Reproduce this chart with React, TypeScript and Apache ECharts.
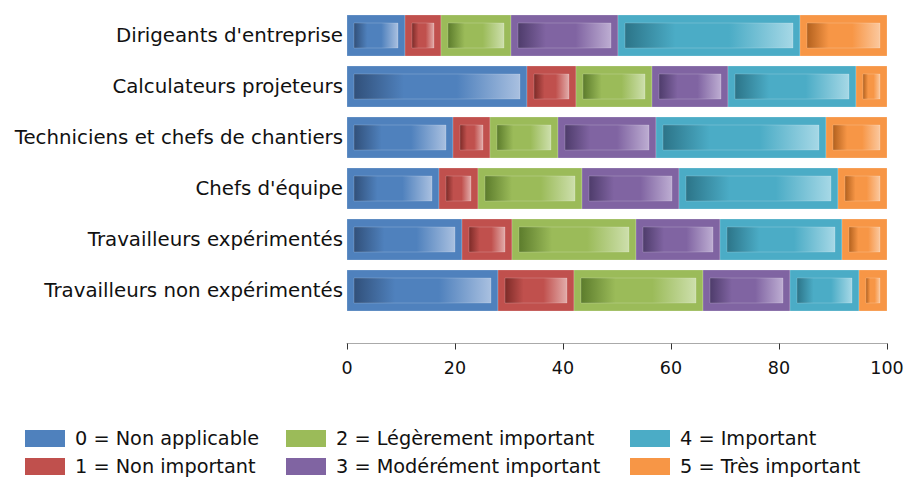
import React, { useEffect, useRef } from "react";
import * as echarts from "echarts";

const categories = [
  "Dirigeants d'entreprise",
  "Calculateurs projeteurs",
  "Techniciens et chefs de chantiers",
  "Chefs d'équipe",
  "Travailleurs expérimentés",
  "Travailleurs non expérimentés",
];
const seriesNames = [
  "0 = Non applicable",
  "1 = Non important",
  "2 = Légèrement important",
  "3 = Modérément important",
  "4 = Important",
  "5 = Très important",
];
const nonApplicable = [10.8, 33.4, 19.7, 17.1, 21.3, 27.9];
const nonImportant = [6.6, 9.0, 6.7, 7.1, 9.2, 14.1];
const legerement = [13.0, 14.0, 12.6, 19.3, 23.0, 24.0];
const moderement = [19.7, 14.1, 18.2, 18.0, 15.5, 16.0];
const important = [33.7, 23.8, 31.5, 29.4, 22.7, 12.9];
const tresImportant = [16.2, 5.7, 11.3, 9.1, 8.3, 5.1];
const xTicks = [0, 20, 40, 60, 80, 100];

const seriesValues = [nonApplicable, nonImportant, legerement, moderement, important, tresImportant];
const baseColors = ["#4F81BD", "#C0504D", "#9BBB59", "#8064A2", "#4BACC6", "#F79646"];
const darkColors = ["#31507A", "#7D2B28", "#5C7C2C", "#4E3C6B", "#2C7488", "#B3611E"];
const lightColors = ["#A9C0E0", "#E2ACAA", "#CDDFAC", "#BDADD2", "#A6D8E6", "#FBC89E"];

const FONT = "'DejaVu Sans', Verdana, sans-serif";
const legendLefts = [25, 25, 286, 286, 630, 630];
const legendTops = [429, 457, 429, 457, 429, 457];

export default function App() {
  const ref = useRef<HTMLDivElement>(null);
  useEffect(() => {
    if (!ref.current) return;
    const chart = echarts.init(ref.current, undefined, { renderer: "svg" });

    const series = seriesValues.map((vals, s) => {
      const data = vals.map((v, i) => {
        let start = 0;
        for (let k = 0; k < s; k++) start += seriesValues[k][i];
        return [start, start + v, i];
      });
      return {
        name: seriesNames[s],
        type: "custom",
        coordinateSystem: "cartesian2d",
        itemStyle: { color: baseColors[s] },
        encode: { x: [0, 1], y: 2 },
        data,
        renderItem: (params: any, api: any) => {
          const start = api.value(0);
          const end = api.value(1);
          const cat = api.value(2);
          const p0 = api.coord([start, cat]);
          const p1 = api.coord([end, cat]);
          const band = api.size([0, 1])[1];
          const h = Math.round(band * 0.8);
          const x0 = Math.round(p0[0]);
          const x1 = Math.round(p1[0]);
          const w = x1 - x0;
          const y = Math.round(p0[1] - h / 2);
          const insetX = Math.min(7, w / 4);
          const insetY = 8;
          return {
            type: "group",
            children: [
              {
                type: "rect",
                shape: { x: x0, y, width: w, height: h },
                style: { fill: baseColors[s], stroke: "rgba(255,255,255,0.2)", lineWidth: 1 },
              },
              {
                type: "rect",
                shape: { x: x0 + insetX, y: y + insetY, width: w - 2 * insetX, height: h - 2 * insetY },
                style: {
                  fill: new echarts.graphic.LinearGradient(0, 0, 1, 0, [
                    { offset: 0, color: darkColors[s] },
                    { offset: 0.3, color: baseColors[s] },
                    { offset: 0.62, color: baseColors[s] },
                    { offset: 1, color: lightColors[s] },
                  ]),
                  stroke: "rgba(255,255,255,0.18)",
                  lineWidth: 1,
                },
              },
            ],
          };
        },
      };
    });

    const legends = seriesNames.map((n, i) => ({
      data: [n],
      left: legendLefts[i],
      top: legendTops[i],
      icon: "rect",
      itemWidth: 40,
      itemHeight: 17,
      padding: 0,
      selectedMode: false,
      textStyle: { fontFamily: FONT, fontSize: 19.3, color: "#111", padding: [0, 0, 0, 5] },
    }));

    chart.setOption({
      animation: false,
      backgroundColor: "#fff",
      grid: { left: 347, right: 25, top: 9.5, height: 306 },
      xAxis: {
        type: "value",
        min: 0,
        max: 100,
        interval: 20,
        offset: 28,
        axisLine: { show: true, lineStyle: { color: "#aaa", width: 1 } },
        axisTick: { show: true, length: 6, lineStyle: { color: "#333" } },
        splitLine: { show: false },
        axisLabel: {
          fontFamily: FONT,
          fontSize: 17.5,
          color: "#111",
          margin: 15,
          formatter: (v: number) => (xTicks.includes(v) ? String(v) : ""),
        },
      },
      yAxis: {
        type: "category",
        data: categories,
        inverse: true,
        axisLine: { show: false },
        axisTick: { show: false },
        axisLabel: { fontFamily: FONT, fontSize: 19.8, color: "#111", margin: 4 },
      },
      legend: legends,
      series,
    });
    return () => chart.dispose();
  }, []);
  return (
    <div
      ref={ref}
      style={{ position: "fixed", left: 0, top: 0, width: 912, height: 478 }}
    />
  );
}
